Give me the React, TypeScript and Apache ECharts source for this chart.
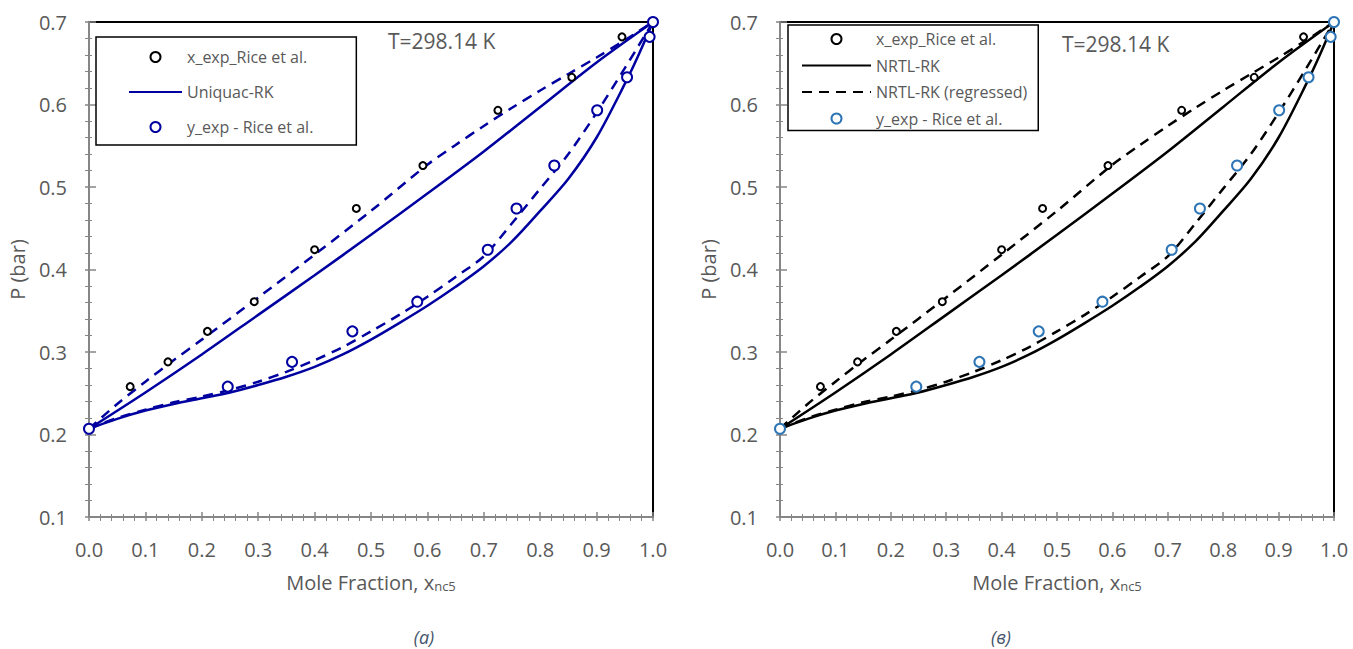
import React, { useEffect, useRef } from "react";
import * as echarts from "echarts";

// ---- experimental data (Rice et al.) ----
const xExpX = [0.073, 0.14, 0.21, 0.293, 0.4, 0.474, 0.592, 0.725, 0.856, 0.945];
const xExpP = [0.258, 0.288, 0.325, 0.361, 0.424, 0.474, 0.526, 0.593, 0.633, 0.682];
const yExpX = [0.0, 0.246, 0.36, 0.467, 0.582, 0.707, 0.758, 0.825, 0.901, 0.954, 0.994, 1.0];
const yExpP = [0.207, 0.258, 0.288, 0.325, 0.361, 0.424, 0.474, 0.526, 0.593, 0.633, 0.682, 0.7];

// ---- model curves: bubble (upper) and dew (lower) ----
const modelBubbleX = [0, 0.1, 0.2, 0.3, 0.4, 0.5, 0.6, 0.7, 0.8, 0.9, 1.0];
const modelBubbleP = [0.207, 0.251, 0.297, 0.345, 0.393, 0.442, 0.492, 0.543, 0.597, 0.651, 0.7];
const modelDewX = [0, 0.05, 0.1, 0.15, 0.2, 0.25, 0.3, 0.35, 0.4, 0.45, 0.5, 0.55, 0.6, 0.65, 0.7, 0.75, 0.8, 0.85, 0.9, 0.95, 0.975, 1];
const modelDewP = [0.207, 0.219, 0.229, 0.237, 0.244, 0.251, 0.26, 0.27, 0.282, 0.297, 0.315, 0.335, 0.356, 0.379, 0.404, 0.434, 0.471, 0.51, 0.56, 0.625, 0.661, 0.7];

const regBubbleX = [0, 0.05, 0.1, 0.15, 0.2, 0.3, 0.4, 0.5, 0.6, 0.65, 0.7, 0.75, 0.8, 0.85, 0.9, 0.95, 1];
const regBubbleP = [0.207, 0.237, 0.264, 0.29, 0.315, 0.366, 0.418, 0.471, 0.527, 0.551, 0.574, 0.596, 0.617, 0.637, 0.657, 0.678, 0.7];
const regDewX = [0, 0.05, 0.1, 0.15, 0.2, 0.25, 0.3, 0.35, 0.4, 0.45, 0.5, 0.55, 0.6, 0.65, 0.7, 0.75, 0.8, 0.85, 0.9, 0.95, 1];
const regDewP = [0.207, 0.22, 0.23, 0.239, 0.246, 0.254, 0.264, 0.276, 0.29, 0.306, 0.325, 0.345, 0.367, 0.391, 0.416, 0.456, 0.498, 0.54, 0.59, 0.644, 0.7];

const xTicks = [0, 0.1, 0.2, 0.3, 0.4, 0.5, 0.6, 0.7, 0.8, 0.9, 1.0];
const yTicks = [0.1, 0.2, 0.3, 0.4, 0.5, 0.6, 0.7];

const pairs = (xs: number[], ys: number[]) => xs.map((x, i) => [x, ys[i]]);

const FONT = "'Open Sans', sans-serif";
const TXT = "#595959";
const AXIS = "#868686";
const NAVY = "#0000A0";
const BLUE = "#2E75B6";

function axesFor(grid: number) {
  const xMain = {
    type: "value", gridIndex: grid, position: "bottom",
    min: xTicks[0], max: xTicks[xTicks.length - 1], interval: 0.1,
    name: "{a|Mole Fraction, x}{b|nc5}", nameLocation: "middle", nameGap: 46,
    nameTextStyle: {
      rich: {
        a: { fontSize: 20, color: TXT, fontFamily: FONT, lineHeight: 26, verticalAlign: "bottom" },
        b: { fontSize: 13, color: TXT, fontFamily: FONT, lineHeight: 26, verticalAlign: "bottom", padding: [16, 0, 0, 0] },
      },
    },
    axisLine: { show: true, onZero: false, lineStyle: { color: AXIS, width: 2 } },
    axisTick: { show: true, length: 4, lineStyle: { color: AXIS, width: 1.5 } },
    minorTick: { show: true, splitNumber: 5, length: 4, lineStyle: { color: AXIS, width: 1 } },
    axisLabel: { fontSize: 20, color: TXT, fontFamily: FONT, margin: 22, formatter: (v: number) => v.toFixed(1) },
    splitLine: { show: false },
  };
  const xAux = {
    type: "value", gridIndex: grid, position: "bottom",
    min: xTicks[0], max: xTicks[xTicks.length - 1], interval: 0.1,
    axisLine: { show: false },
    axisTick: { show: true, inside: true, length: 5, lineStyle: { color: AXIS, width: 1.5 } },
    minorTick: { show: true, splitNumber: 5, length: 3, lineStyle: { color: AXIS, width: 1 } },
    axisLabel: { show: false },
    splitLine: { show: false },
  };
  const yMain = {
    type: "value", gridIndex: grid, position: "left",
    min: yTicks[0], max: yTicks[yTicks.length - 1], interval: 0.1,
    name: "P (bar)", nameLocation: "middle", nameGap: 62, nameRotate: 90,
    nameTextStyle: { fontSize: 20, color: TXT, fontFamily: FONT },
    axisLine: { show: true, onZero: false, lineStyle: { color: AXIS, width: 2 } },
    axisTick: { show: true, length: 4, lineStyle: { color: AXIS, width: 1.5 } },
    minorTick: { show: true, splitNumber: 5, length: 4, lineStyle: { color: AXIS, width: 1 } },
    axisLabel: { fontSize: 20, color: TXT, fontFamily: FONT, margin: 22, formatter: (v: number) => v.toFixed(1) },
    splitLine: { show: false },
  };
  const yAux = {
    type: "value", gridIndex: grid, position: "left",
    min: yTicks[0], max: yTicks[yTicks.length - 1], interval: 0.1,
    axisLine: { show: false },
    axisTick: { show: true, inside: true, length: 7, lineStyle: { color: AXIS, width: 1.5 } },
    minorTick: { show: true, splitNumber: 5, length: 3, lineStyle: { color: AXIS, width: 1 } },
    axisLabel: { show: false },
    splitLine: { show: false },
  };
  return { x: [xMain, xAux], y: [yMain, yAux] };
}

function lineSeries(name: string, xs: number[], ys: number[], idx: number, color: string, dashed: boolean) {
  return {
    name, type: "line", xAxisIndex: idx, yAxisIndex: idx,
    data: pairs(xs, ys), showSymbol: false, symbol: "none", smooth: 0.3,
    lineStyle: { color, width: 2.5, type: dashed ? [10, 7] : "solid" },
    itemStyle: { color }, z: 2,
  };
}

function scatterSeries(name: string, xs: number[], ys: number[], idx: number, color: string, size: number, bw: number) {
  return {
    name, type: "scatter", xAxisIndex: idx, yAxisIndex: idx,
    data: pairs(xs, ys), symbol: "emptyCircle", symbolSize: size,
    itemStyle: { color, borderColor: color, borderWidth: bw, opacity: 1 }, z: 5,
  };
}

export default function App() {
  const ref = useRef<HTMLDivElement>(null);
  useEffect(() => {
    if (!ref.current) return;
    const chart = echarts.init(ref.current, undefined, { renderer: "svg" });
    const a1 = axesFor(0);
    const a2 = axesFor(1);
    const legendCommon = {
      orient: "vertical", selectedMode: false, backgroundColor: "#fff",
      borderColor: "#000", borderWidth: 1.5, itemHeight: 10,
      textStyle: { fontSize: 16, color: TXT, fontFamily: FONT, lineHeight: 16 },
    };
    const noDot = { itemStyle: { opacity: 0 } };
    chart.setOption({
      animation: false,
      grid: [
        { left: 89, right: 700, top: 22, bottom: 132, show: true, borderColor: "#000", borderWidth: 2, backgroundColor: "transparent" },
        { left: 780, right: 19, top: 22, bottom: 132, show: true, borderColor: "#000", borderWidth: 2, backgroundColor: "transparent" },
      ],
      xAxis: [...a1.x, ...a2.x],
      yAxis: [...a1.y, ...a2.y],
      legend: [
        {
          ...legendCommon, left: 96, top: 37, itemWidth: 53, itemGap: 19, itemTextGap: 6,
          padding: [12, 43, 10, 32],
          data: ["x_exp_Rice et al.", { name: "Uniquac-RK", ...noDot }, "y_exp - Rice et al."],
        },
        {
          ...legendCommon, left: 788, top: 25, itemWidth: 69, itemGap: 10.5, itemTextGap: 7,
          padding: [6, 11, 4, 13],
          data: [
            "x_exp_Rice et al.", { name: "NRTL-RK", ...noDot }, { name: "NRTL-RK (regressed)", ...noDot },
            { name: "y_exp - Rice et al.", itemStyle: { color: BLUE, borderColor: BLUE } },
          ],
        },
      ],
      series: [
        // (a) Uniquac-RK
        lineSeries("Uniquac-RK", modelBubbleX, modelBubbleP, 0, NAVY, false),
        lineSeries("Uniquac-RK", modelDewX, modelDewP, 0, NAVY, false),
        lineSeries("Uniquac-RK (regressed)", regBubbleX, regBubbleP, 0, NAVY, true),
        lineSeries("Uniquac-RK (regressed)", regDewX, regDewP, 0, NAVY, true),
        scatterSeries("x_exp_Rice et al.", xExpX, xExpP, 0, "#000", 7, 2),
        scatterSeries("y_exp - Rice et al.", yExpX, yExpP, 0, NAVY, 10, 2.5),
        // (b) NRTL-RK
        lineSeries("NRTL-RK", modelBubbleX, modelBubbleP, 2, "#000", false),
        lineSeries("NRTL-RK", modelDewX, modelDewP, 2, "#000", false),
        lineSeries("NRTL-RK (regressed)", regBubbleX, regBubbleP, 2, "#000", true),
        lineSeries("NRTL-RK (regressed)", regDewX, regDewP, 2, "#000", true),
        scatterSeries("x_exp_Rice et al.", xExpX, xExpP, 2, "#000", 7, 2),
        scatterSeries("y_exp - Rice et al.", yExpX, yExpP, 2, BLUE, 10, 2.5),
      ],
      graphic: [
        { type: "text", left: 388, top: 30, style: { text: "T=298.14 K", fontSize: 21, fill: TXT, fontFamily: FONT } },
        { type: "text", left: 1062, top: 33, style: { text: "T=298.14 K", fontSize: 21, fill: TXT, fontFamily: FONT } },
        { type: "text", x: 424, y: 637, style: { text: "(a)", fontSize: 18, fontStyle: "italic", fill: "#44546A", fontFamily: FONT, align: "center", verticalAlign: "middle" } },
        { type: "text", x: 1001, y: 637, style: { text: "(в)", fontSize: 18, fontStyle: "italic", fill: "#44546A", fontFamily: FONT, align: "center", verticalAlign: "middle" } },
      ],
    });
    return () => chart.dispose();
  }, []);
  return <div ref={ref} style={{ position: "fixed", left: 0, top: 0, width: 1353, height: 649, background: "#fff" }} />;
}
